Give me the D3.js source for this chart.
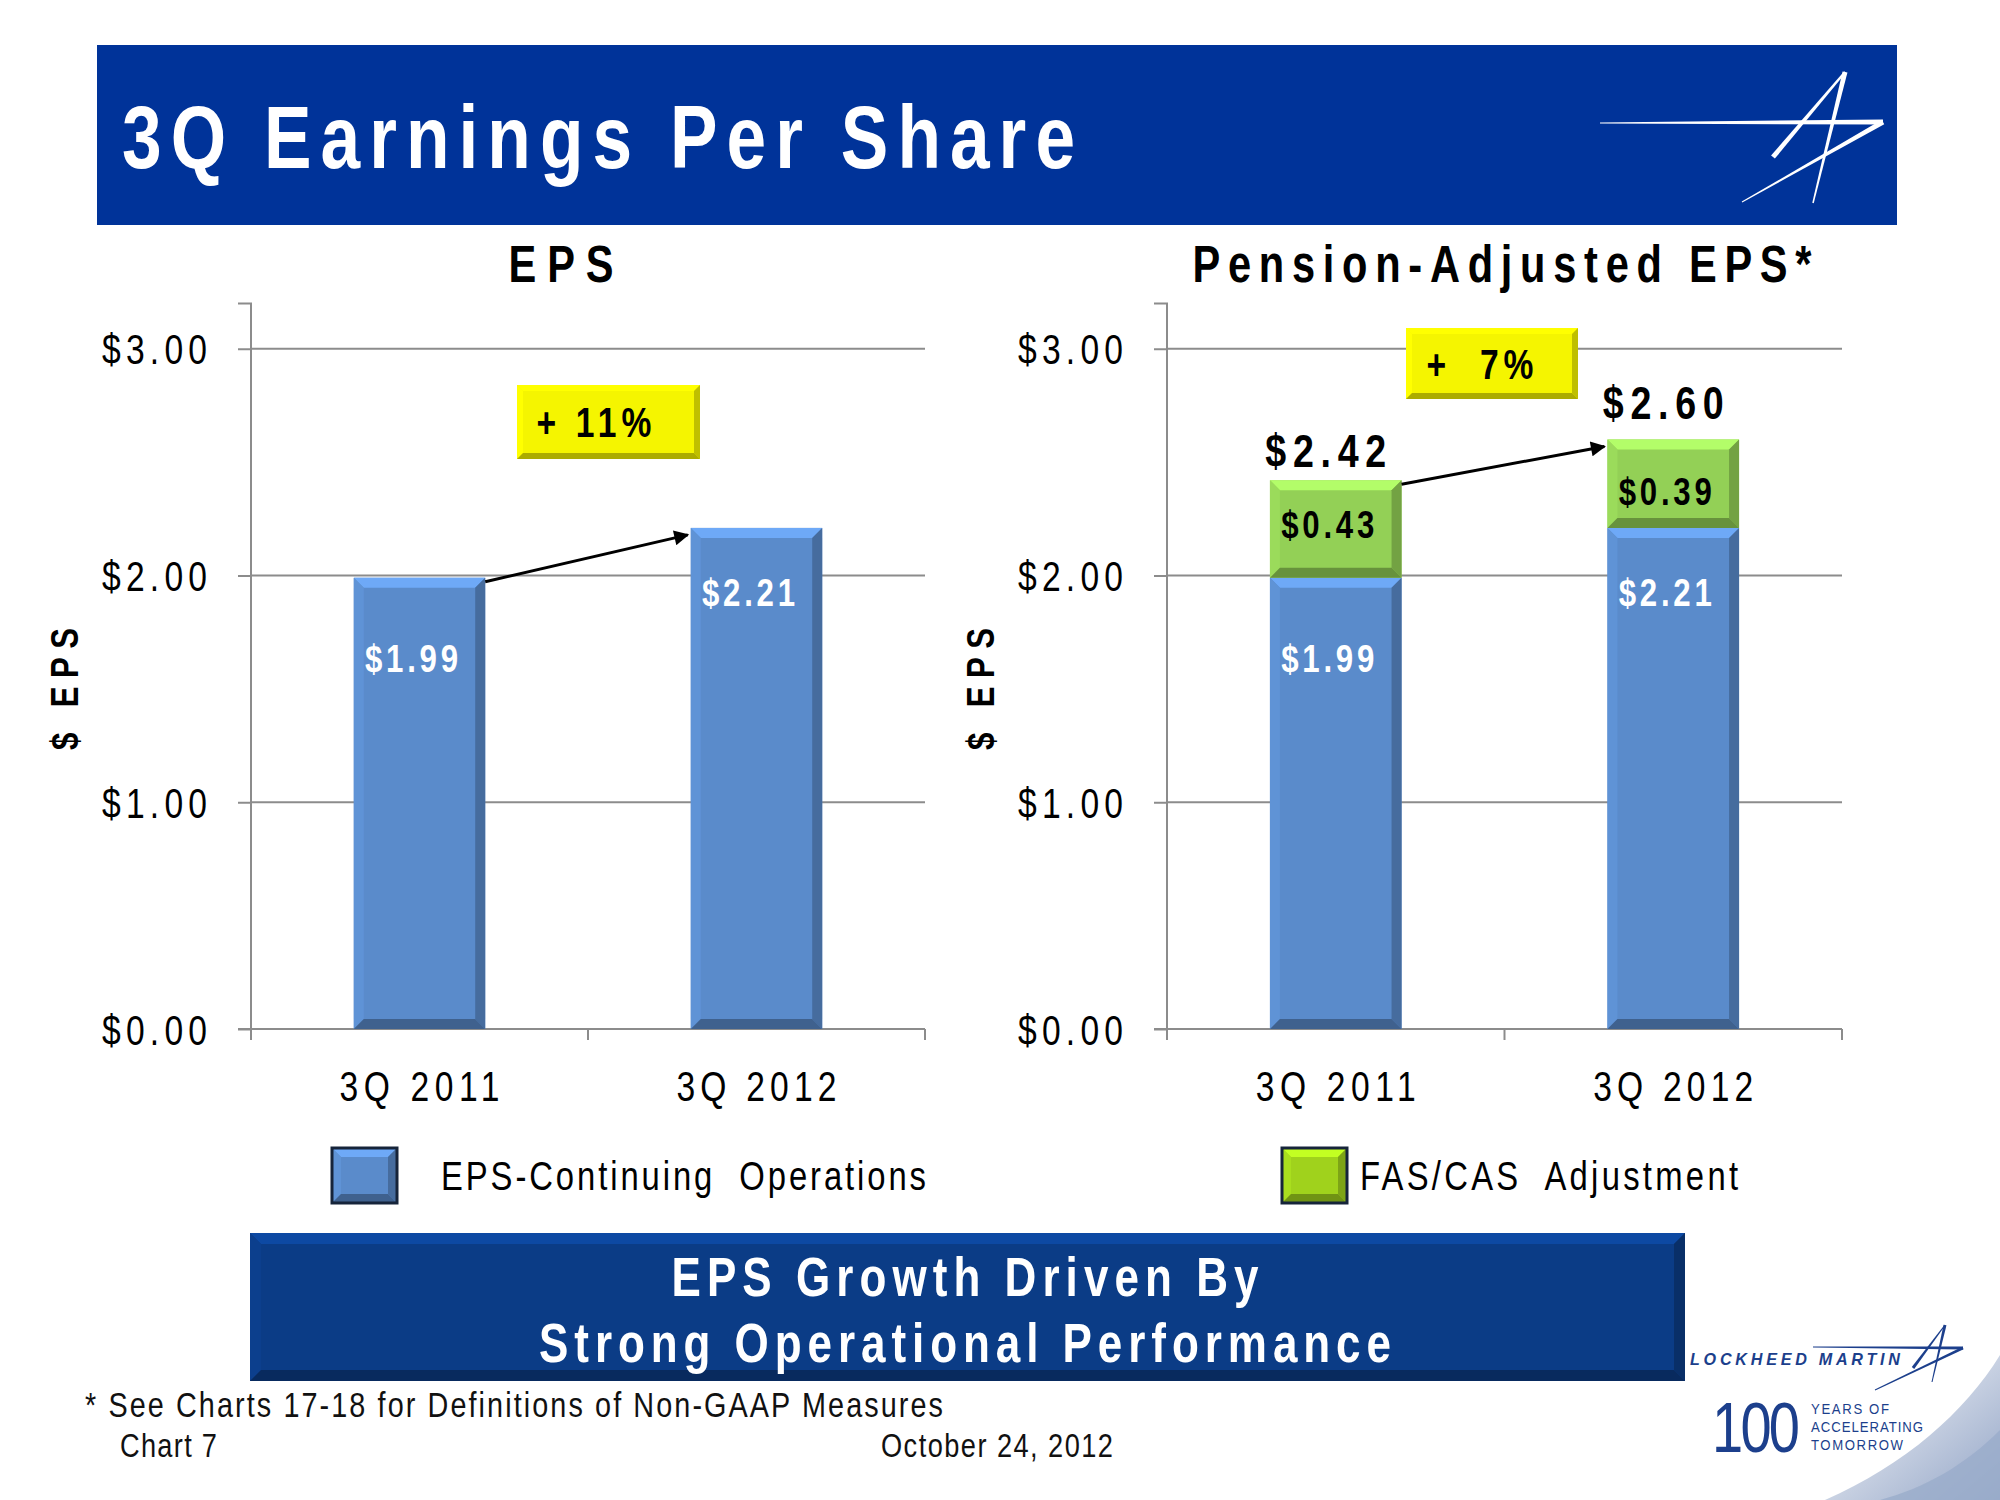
<!DOCTYPE html>
<html>
<head>
<meta charset="utf-8">
<script src="https://cdn.jsdelivr.net/npm/d3@7"></script>
<style>
  html, body { margin: 0; padding: 0; background: #ffffff; }
  svg text { white-space: pre; }
</style>
</head>
<body>
<svg id="chart" width="2000" height="1500"></svg>
<script>
// ---------------- DATA ----------------
const categories = ["3Q 2011", "3Q 2012"];
const epsContinuing = [1.99, 2.21];
const fasCasAdjustment = [0.43, 0.39];
const pensionAdjustedTotals = [2.42, 2.60];
const yTickValues = [0, 1, 2, 3];
const chartTitles = ["EPS", "Pension-Adjusted EPS*"];
const growthLabels = ["+ 11%", "+  7%"];
const legendLabels = ["EPS-Continuing  Operations", "FAS/CAS  Adjustment"];
const pageTitle = "3Q Earnings Per Share";
const calloutLines = ["EPS Growth Driven By", "Strong Operational Performance"];
const footnote = "* See Charts 17-18 for Definitions of Non-GAAP Measures";
const chartNumber = "Chart 7";
const dateLabel = "October 24, 2012";

// ---------------- STYLE ----------------
const FONT = "'Liberation Sans Narrow','Arial Narrow','Liberation Sans',Arial,sans-serif";
const SX = 0.8; // horizontal condensing (narrow face)
const BLUE = "#5a8bcb";
const GREEN = "#93d056";
const YELLOW = "#f5f500";
const GRID = "#8c8c8c";

const svg = d3.select("#chart");

function fmt(v) { return "$" + v.toFixed(2); }

// condensed text helper: width = rendered width on screen
function txt(parent, str, x, y, o) {
  const sx = o.sx ?? SX;
  const extra = o.rotate ? ` rotate(${o.rotate})` : "";
  const t = parent.append("text")
    .attr("transform", `translate(${x},${y})${extra} scale(${sx},1)`)
    .attr("x", 0).attr("y", 0)
    .attr("text-anchor", o.anchor || "start")
    .attr("font-family", o.family || FONT)
    .attr("font-size", o.size)
    .attr("font-weight", o.weight || "normal")
    .attr("font-style", o.style || "normal")
    .attr("fill", o.fill || "#000")
    .text(str);
  if (o.width) t.attr("textLength", o.width / sx).attr("lengthAdjust", "spacing");
  return t;
}

function bevel(g, x, y, w, h, base, b, outline) {
  const c = d3.color(base);
  const grp = g.append("g");
  grp.append("rect").attr("x", x).attr("y", y).attr("width", w).attr("height", h).attr("fill", base);
  const poly = (pts, fill) => grp.append("polygon").attr("points", pts.map(p => p.join(",")).join(" ")).attr("fill", fill);
  poly([[x, y], [x + w, y], [x + w - b, y + b], [x + b, y + b]], c.brighter(0.55));
  poly([[x, y], [x + b, y + b], [x + b, y + h - b], [x, y + h]], c.brighter(0.15));
  poly([[x + w, y], [x + w, y + h], [x + w - b, y + h - b], [x + w - b, y + b]], c.darker(0.7));
  poly([[x, y + h], [x + b, y + h - b], [x + w - b, y + h - b], [x + w, y + h]], c.darker(1.0));
  if (outline) {
    grp.append("rect").attr("x", x).attr("y", y).attr("width", w).attr("height", h)
      .attr("fill", "none").attr("stroke", outline).attr("stroke-width", 3);
  }
  return grp;
}

function taper(g, p1, p2, w1, w2, fill) {
  const dx = p2[0] - p1[0], dy = p2[1] - p1[1];
  const len = Math.hypot(dx, dy);
  const nx = -dy / len, ny = dx / len;
  const pts = [
    [p1[0] + nx * w1 / 2, p1[1] + ny * w1 / 2],
    [p2[0] + nx * w2 / 2, p2[1] + ny * w2 / 2],
    [p2[0] - nx * w2 / 2, p2[1] - ny * w2 / 2],
    [p1[0] - nx * w1 / 2, p1[1] - ny * w1 / 2]
  ];
  g.append("polygon").attr("points", pts.map(p => p.join(",")).join(" ")).attr("fill", fill);
}

// defs: arrow marker, gradients
const defs = svg.append("defs");
defs.append("marker").attr("id", "arrow").attr("viewBox", "0 0 10 10")
  .attr("refX", 9).attr("refY", 5).attr("markerWidth", 6).attr("markerHeight", 5)
  .attr("markerUnits", "strokeWidth").attr("orient", "auto")
  .append("path").attr("d", "M0,0 L10,5 L0,10 Z").attr("fill", "#000");
const sw = defs.append("linearGradient").attr("id", "swoosh").attr("x1", "0").attr("y1", "0").attr("x2", "1").attr("y2", "1");
sw.append("stop").attr("offset", "0").attr("stop-color", "#ffffff");
sw.append("stop").attr("offset", "1").attr("stop-color", "#8196bd");

// ---------------- HEADER ----------------
svg.append("rect").attr("x", 97).attr("y", 45).attr("width", 1800).attr("height", 180).attr("fill", "#003399");
txt(svg, pageTitle, 122, 168, { size: 89, weight: "bold", fill: "#ffffff", width: 953 });
const star = svg.append("g");
taper(star, [1600, 123], [1883, 122], 1, 5, "#ffffff");
taper(star, [1883, 122], [1742, 202], 5, 1, "#ffffff");
taper(star, [1845, 72], [1773, 157], 2, 5, "#ffffff");
taper(star, [1845, 72], [1813, 203], 5, 1.5, "#ffffff");

// ---------------- CHARTS ----------------
const y = d3.scaleLinear().domain([0, 3.2]).range([1029, 303.4]);
const blueLabelDrop = [94, 78];
const greenLabelDrop = [58, 66];
const totalLift = [13, 20];

function drawChart(opts) {
  const g = svg.append("g");
  const [x0, x1] = opts.range;
  const x = d3.scaleBand().domain(categories).range([x0, x1]).paddingInner(0.61).paddingOuter(0.305);
  const bw = x.bandwidth();

  // gridlines
  g.selectAll(".grid").data(yTickValues.filter(v => v > 0)).join("line")
    .attr("x1", x0).attr("x2", x1).attr("y1", d => y(d)).attr("y2", d => y(d))
    .attr("stroke", GRID).attr("stroke-width", 2);

  // y axis
  const yAxis = d3.axisLeft(y).tickValues(yTickValues).tickFormat(fmt).tickSize(13).tickPadding(31);
  const ya = g.append("g").attr("transform", `translate(${x0},0)`).call(yAxis);
  ya.select(".domain").attr("stroke", GRID).attr("stroke-width", 2).attr("d", `M-13,${y(3.2)}H0V${y(0)}H-13`);
  ya.selectAll(".tick line").attr("stroke", GRID).attr("stroke-width", 2);
  ya.selectAll(".tick text").each(function () {
    const t = d3.select(this);
    const tx = +t.attr("x");
    t.attr("x", 0).attr("dy", "0.36em").attr("transform", `translate(${tx},0) scale(${SX},1)`)
      .attr("font-family", FONT).attr("font-size", 42).attr("fill", "#000")
      .attr("textLength", 105 / SX).attr("lengthAdjust", "spacing");
  });

  // x axis
  const xa = g.append("g").attr("transform", `translate(0,${y(0)})`)
    .call(d3.axisBottom(x).tickSize(0).tickPadding(42));
  xa.select(".domain").attr("stroke", GRID).attr("stroke-width", 2).attr("d", `M${x0},0H${x1}`);
  xa.selectAll(".tick text").each(function () {
    const t = d3.select(this);
    const ty = +t.attr("y");
    t.attr("y", 0).attr("dy", "0.71em").attr("transform", `translate(0,${ty}) scale(${SX},1)`)
      .attr("font-family", FONT).attr("font-size", 42).attr("fill", "#000")
      .attr("textLength", 160 / SX).attr("lengthAdjust", "spacing");
  });
  const bounds = [x0, (x(categories[0]) + bw + x(categories[1])) / 2, x1];
  g.selectAll(".xt").data(bounds).join("line")
    .attr("x1", d => d).attr("x2", d => d).attr("y1", y(0)).attr("y2", y(0) + 11)
    .attr("stroke", GRID).attr("stroke-width", 2);

  // title
  txt(g, opts.title, opts.titleX, 282, { size: 52, weight: "bold", anchor: "middle", width: opts.titleW });

  // y axis title
  txt(g, "$ EPS", x0 - 173, 689, { size: 39, weight: "bold", anchor: "middle", rotate: -90, width: 122 });

  // blue bars
  categories.forEach((c, i) => {
    bevel(g, x(c), y(epsContinuing[i]), bw, y(0) - y(epsContinuing[i]), BLUE, 10);
  });
  if (opts.stacked) {
    categories.forEach((c, i) => {
      bevel(g, x(c), y(pensionAdjustedTotals[i]), bw, y(epsContinuing[i]) - y(pensionAdjustedTotals[i]), GREEN, 10);
    });
  }

  // labels inside blue bars
  categories.forEach((c, i) => {
    txt(g, fmt(epsContinuing[i]), x(c) + bw / 2 - 8, y(epsContinuing[i]) + blueLabelDrop[i],
      { size: 39, weight: "bold", anchor: "middle", fill: "#ffffff", width: 93 });
  });

  if (opts.stacked) {
    categories.forEach((c, i) => {
      txt(g, fmt(fasCasAdjustment[i]), x(c) + bw / 2 - 8, y(pensionAdjustedTotals[i]) + greenLabelDrop[i],
        { size: 39, weight: "bold", anchor: "middle", fill: "#000", width: 93 });
      txt(g, fmt(pensionAdjustedTotals[i]), x(c) + bw / 2 - 10, y(pensionAdjustedTotals[i]) - totalLift[i],
        { size: 47, weight: "bold", anchor: "middle", fill: "#000", width: 121 });
    });
  }

  // growth arrow
  const tops = opts.stacked ? pensionAdjustedTotals : epsContinuing;
  g.append("line")
    .attr("x1", x(categories[0]) + bw).attr("y1", y(tops[0]) + 4)
    .attr("x2", x(categories[1]) - 3).attr("y2", y(tops[1]) + 7)
    .attr("stroke", "#000").attr("stroke-width", 3).attr("marker-end", "url(#arrow)");

  // growth callout box
  const b = opts.box;
  bevel(g, b[0], b[1], b[2], b[3], YELLOW, 6, null);
  txt(g, opts.growth, opts.growthX, b[1] + b[3] / 2 + 15,
    { size: 42, weight: "bold", anchor: "middle", width: opts.growthW });
}

drawChart({ range: [251, 925], stacked: false, title: chartTitles[0], titleX: 561, titleW: 105,
  box: [517, 385, 183, 74], growth: growthLabels[0], growthX: 594, growthW: 115 });
drawChart({ range: [1167, 1842], stacked: true, title: chartTitles[1], titleX: 1502, titleW: 619,
  box: [1406, 328, 172, 71], growth: growthLabels[1], growthX: 1480, growthW: 107 });

// ---------------- LEGEND ----------------
const legendColors = [BLUE, "#a0d21c"];
const legendPos = [[332, 441, 485], [1282, 1360, 378]];
legendLabels.forEach((lab, i) => {
  bevel(svg, legendPos[i][0], 1148, 65, 55, legendColors[i], 9, "#16243a");
  txt(svg, lab, legendPos[i][1], 1190, { size: 41, width: legendPos[i][2] });
});

// ---------------- CALLOUT ----------------
bevel(svg, 250, 1233, 1435, 148, "#0b3c86", 11, null);
const calloutW = [587, 852];
calloutLines.forEach((t, i) => {
  txt(svg, t, 965, 1296 + i * 66, { size: 55, weight: "bold", anchor: "middle", fill: "#ffffff", width: calloutW[i] });
});

// ---------------- FOOTER ----------------
txt(svg, footnote, 85, 1417, { size: 36, fill: "#111", width: 858 });
txt(svg, chartNumber, 120, 1457, { size: 34, fill: "#111", width: 97 });
txt(svg, dateLabel, 881, 1457, { size: 34, fill: "#111", width: 232 });

// swoosh
svg.append("path").attr("d", "M2000,1355 C1965,1412 1905,1465 1825,1500 L2000,1500 Z").attr("fill", "url(#swoosh)").attr("opacity", 0.85);
svg.append("path").attr("d", "M2000,1430 C1965,1465 1925,1488 1880,1500 L2000,1500 Z").attr("fill", "#9aaccb").attr("opacity", 0.8);

// Lockheed Martin logo
const LM = "#1c3f8c";
txt(svg, "LOCKHEED MARTIN", 1690, 1365, { size: 17, weight: "900", style: "italic", fill: LM, width: 210, sx: 0.95 });
const lmStar = svg.append("g");
taper(lmStar, [1813, 1347], [1963, 1348], 1, 3, LM);
taper(lmStar, [1963, 1348], [1875, 1390], 3, 1, LM);
taper(lmStar, [1945, 1325], [1913, 1368], 1, 3, LM);
taper(lmStar, [1945, 1325], [1932, 1382], 3, 1, LM);
txt(svg, "100", 1712, 1452, { size: 70, fill: LM, width: 88, sx: 0.8 });
["YEARS OF", "ACCELERATING", "TOMORROW"].forEach((t, i) => {
  txt(svg, t, 1811, 1414 + i * 18, { size: 15.5, fill: LM, width: [78, 112, 92][i], sx: 0.85 });
});
</script>
</body>
</html>
